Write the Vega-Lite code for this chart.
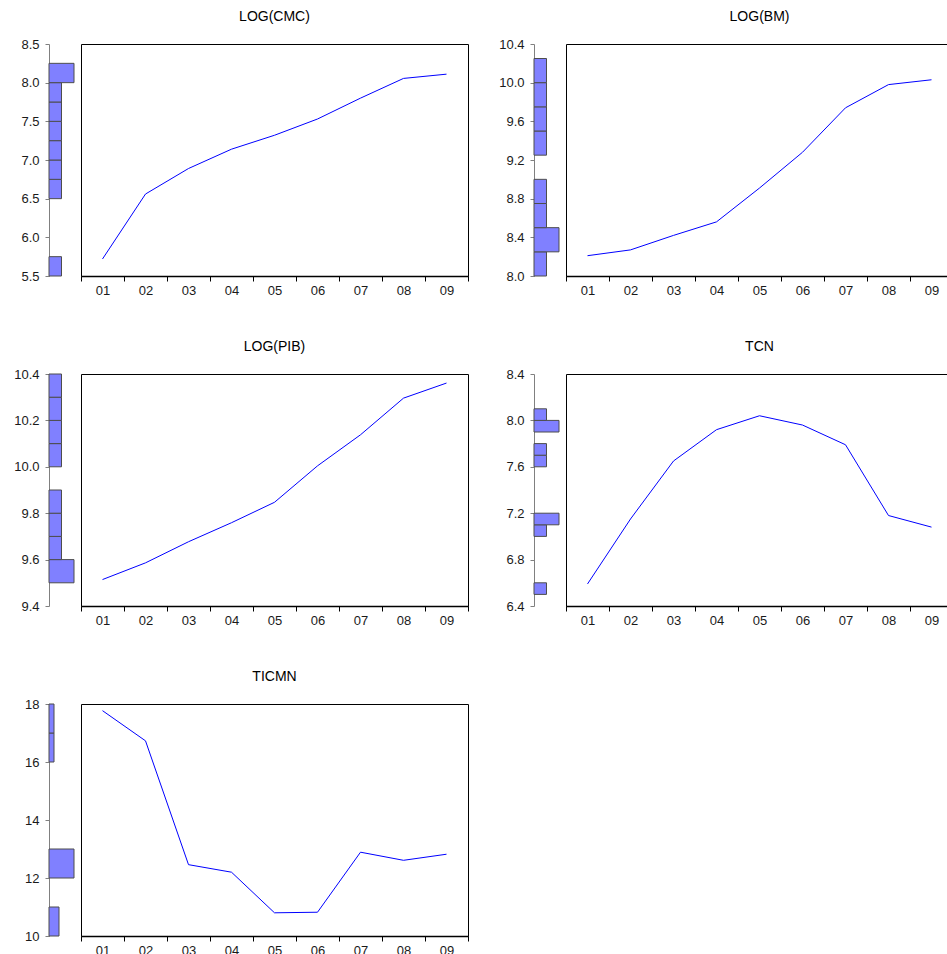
{
  "$schema": "https://vega.github.io/schema/vega-lite/v6.json",
  "autosize": {"type": "pad"},
  "padding": {"left": 13, "top": 9, "right": 0, "bottom": 0},
  "background": "white",
  "columns": 4,
  "spacing": {"row": 98, "column": 0},
  "bounds": "flush",
  "datasets": {
    "cmc": [
      {"obs": "01", "value": 5.72}, {"obs": "02", "value": 6.56}, {"obs": "03", "value": 6.89},
      {"obs": "04", "value": 7.14}, {"obs": "05", "value": 7.32}, {"obs": "06", "value": 7.53},
      {"obs": "07", "value": 7.80}, {"obs": "08", "value": 8.055}, {"obs": "09", "value": 8.11}
    ],
    "bm": [
      {"obs": "01", "value": 8.21}, {"obs": "02", "value": 8.27}, {"obs": "03", "value": 8.42},
      {"obs": "04", "value": 8.56}, {"obs": "05", "value": 8.91}, {"obs": "06", "value": 9.28},
      {"obs": "07", "value": 9.74}, {"obs": "08", "value": 9.98}, {"obs": "09", "value": 10.03}
    ],
    "pib": [
      {"obs": "01", "value": 9.514}, {"obs": "02", "value": 9.586}, {"obs": "03", "value": 9.677},
      {"obs": "04", "value": 9.759}, {"obs": "05", "value": 9.847}, {"obs": "06", "value": 10.004},
      {"obs": "07", "value": 10.138}, {"obs": "08", "value": 10.296}, {"obs": "09", "value": 10.361}
    ],
    "tcn": [
      {"obs": "01", "value": 6.59}, {"obs": "02", "value": 7.15}, {"obs": "03", "value": 7.65},
      {"obs": "04", "value": 7.92}, {"obs": "05", "value": 8.04}, {"obs": "06", "value": 7.96},
      {"obs": "07", "value": 7.79}, {"obs": "08", "value": 7.18}, {"obs": "09", "value": 7.08}
    ],
    "ticmn": [
      {"obs": "01", "value": 17.77}, {"obs": "02", "value": 16.73}, {"obs": "03", "value": 12.46},
      {"obs": "04", "value": 12.2}, {"obs": "05", "value": 10.8}, {"obs": "06", "value": 10.82},
      {"obs": "07", "value": 12.89}, {"obs": "08", "value": 12.61}, {"obs": "09", "value": 12.82}
    ],
    "cmc_hist": [
      {"lo": 5.5, "hi": 5.75, "n": 1}, {"lo": 6.5, "hi": 6.75, "n": 1}, {"lo": 6.75, "hi": 7.0, "n": 1},
      {"lo": 7.0, "hi": 7.25, "n": 1}, {"lo": 7.25, "hi": 7.5, "n": 1}, {"lo": 7.5, "hi": 7.75, "n": 1},
      {"lo": 7.75, "hi": 8.0, "n": 1}, {"lo": 8.0, "hi": 8.25, "n": 2}
    ],
    "bm_hist": [
      {"lo": 8.0, "hi": 8.25, "n": 1}, {"lo": 8.25, "hi": 8.5, "n": 2}, {"lo": 8.5, "hi": 8.75, "n": 1},
      {"lo": 8.75, "hi": 9.0, "n": 1}, {"lo": 9.25, "hi": 9.5, "n": 1}, {"lo": 9.5, "hi": 9.75, "n": 1},
      {"lo": 9.75, "hi": 10.0, "n": 1}, {"lo": 10.0, "hi": 10.25, "n": 1}
    ],
    "pib_hist": [
      {"lo": 9.5, "hi": 9.6, "n": 2}, {"lo": 9.6, "hi": 9.7, "n": 1}, {"lo": 9.7, "hi": 9.8, "n": 1},
      {"lo": 9.8, "hi": 9.9, "n": 1}, {"lo": 10.0, "hi": 10.1, "n": 1}, {"lo": 10.1, "hi": 10.2, "n": 1},
      {"lo": 10.2, "hi": 10.3, "n": 1}, {"lo": 10.3, "hi": 10.4, "n": 1}
    ],
    "tcn_hist": [
      {"lo": 6.5, "hi": 6.6, "n": 1}, {"lo": 7.0, "hi": 7.1, "n": 1}, {"lo": 7.1, "hi": 7.2, "n": 2},
      {"lo": 7.6, "hi": 7.7, "n": 1}, {"lo": 7.7, "hi": 7.8, "n": 1}, {"lo": 7.9, "hi": 8.0, "n": 2},
      {"lo": 8.0, "hi": 8.1, "n": 1}
    ],
    "ticmn_hist": [
      {"lo": 10, "hi": 11, "n": 2}, {"lo": 12, "hi": 13, "n": 5}, {"lo": 16, "hi": 17, "n": 1},
      {"lo": 17, "hi": 18, "n": 1}
    ]
  },
  "config": {
    "font": "Liberation Sans",
    "view": {"stroke": null},
    "axis": {"grid": false, "title": null, "labelFont": "Liberation Sans", "labelFontSize": 13, "labelColor": "#1a1a1a"},
    "title": {"font": "Liberation Sans", "fontSize": 14, "fontWeight": "normal", "color": "#000000", "anchor": "middle", "frame": "group", "offset": 20}
  },
  "concat": [
    {
      "width": 32, "height": 232,
      "data": {"name": "cmc_hist"},
      "mark": {"type": "rect", "fill": "#8080FF", "stroke": "#4d4d4d", "strokeWidth": 1},
      "encoding": {
        "y": {"field": "lo", "type": "quantitative", "scale": {"domain": [5.5, 8.5], "nice": false, "zero": false},
              "axis": {"values": [5.5, 6.0, 6.5, 7.0, 7.5, 8.0, 8.5], "format": ".1f", "domainColor": "#808080", "tickColor": "#808080", "tickSize": 4, "labelPadding": 6, "labelFlush": false, "labelOverlap": false}},
        "y2": {"field": "hi"},
        "x": {"field": "n", "type": "quantitative", "scale": {"domain": [0, 2], "range": [0, 25]}, "axis": null},
        "x2": {"datum": 0}
      }
    },
    {
      "width": 387, "height": 232,
      "title": {"text": "LOG(CMC)", "fontWeight": "normal"},
      "view": {"stroke": "#000000", "strokeWidth": 1},
      "data": {"name": "cmc"},
      "mark": {"type": "line", "color": "#0000FF", "strokeWidth": 1},
      "encoding": {
        "x": {"field": "obs", "type": "ordinal", "scale": {"type": "band", "paddingInner": 0, "paddingOuter": 0},
              "axis": {"tickBand": "extent", "labelAngle": 0, "domainColor": "#000000", "domainWidth": 1.5, "tickColor": "#000000", "tickSize": 5, "labelPadding": 3, "labelColor": "#1a1a1a"}},
        "y": {"field": "value", "type": "quantitative", "scale": {"domain": [5.5, 8.5], "nice": false, "zero": false}, "axis": null}
      }
    },
    {
      "width": 98, "height": 232,
      "data": {"name": "bm_hist"},
      "mark": {"type": "rect", "fill": "#8080FF", "stroke": "#4d4d4d", "strokeWidth": 1},
      "encoding": {
        "y": {"field": "lo", "type": "quantitative", "scale": {"domain": [8.0, 10.4], "nice": false, "zero": false},
              "axis": {"values": [8.0, 8.4, 8.8, 9.2, 9.6, 10.0, 10.4], "format": ".1f", "offset": -66, "domainColor": "#808080", "tickColor": "#808080", "tickSize": 4, "labelPadding": 6, "labelFlush": false, "labelOverlap": false}},
        "y2": {"field": "hi"},
        "x": {"field": "n", "type": "quantitative", "scale": {"domain": [0, 2], "range": [66, 91]}, "axis": null},
        "x2": {"datum": 0}
      }
    },
    {
      "width": 387, "height": 232,
      "title": {"text": "LOG(BM)", "fontWeight": "normal"},
      "view": {"stroke": "#000000", "strokeWidth": 1},
      "data": {"name": "bm"},
      "mark": {"type": "line", "color": "#0000FF", "strokeWidth": 1},
      "encoding": {
        "x": {"field": "obs", "type": "ordinal", "scale": {"type": "band", "paddingInner": 0, "paddingOuter": 0},
              "axis": {"tickBand": "extent", "labelAngle": 0, "domainColor": "#000000", "domainWidth": 1.5, "tickColor": "#000000", "tickSize": 5, "labelPadding": 3, "labelColor": "#1a1a1a"}},
        "y": {"field": "value", "type": "quantitative", "scale": {"domain": [8.0, 10.4], "nice": false, "zero": false}, "axis": null}
      }
    },
    {
      "width": 32, "height": 232,
      "data": {"name": "pib_hist"},
      "mark": {"type": "rect", "fill": "#8080FF", "stroke": "#4d4d4d", "strokeWidth": 1},
      "encoding": {
        "y": {"field": "lo", "type": "quantitative", "scale": {"domain": [9.4, 10.4], "nice": false, "zero": false},
              "axis": {"values": [9.4, 9.6, 9.8, 10.0, 10.2, 10.4], "format": ".1f", "domainColor": "#808080", "tickColor": "#808080", "tickSize": 4, "labelPadding": 6, "labelFlush": false, "labelOverlap": false}},
        "y2": {"field": "hi"},
        "x": {"field": "n", "type": "quantitative", "scale": {"domain": [0, 2], "range": [0, 25]}, "axis": null},
        "x2": {"datum": 0}
      }
    },
    {
      "width": 387, "height": 232,
      "title": {"text": "LOG(PIB)", "fontWeight": "normal"},
      "view": {"stroke": "#000000", "strokeWidth": 1},
      "data": {"name": "pib"},
      "mark": {"type": "line", "color": "#0000FF", "strokeWidth": 1},
      "encoding": {
        "x": {"field": "obs", "type": "ordinal", "scale": {"type": "band", "paddingInner": 0, "paddingOuter": 0},
              "axis": {"tickBand": "extent", "labelAngle": 0, "domainColor": "#000000", "domainWidth": 1.5, "tickColor": "#000000", "tickSize": 5, "labelPadding": 3, "labelColor": "#1a1a1a"}},
        "y": {"field": "value", "type": "quantitative", "scale": {"domain": [9.4, 10.4], "nice": false, "zero": false}, "axis": null}
      }
    },
    {
      "width": 98, "height": 232,
      "data": {"name": "tcn_hist"},
      "mark": {"type": "rect", "fill": "#8080FF", "stroke": "#4d4d4d", "strokeWidth": 1},
      "encoding": {
        "y": {"field": "lo", "type": "quantitative", "scale": {"domain": [6.4, 8.4], "nice": false, "zero": false},
              "axis": {"values": [6.4, 6.8, 7.2, 7.6, 8.0, 8.4], "format": ".1f", "offset": -66, "domainColor": "#808080", "tickColor": "#808080", "tickSize": 4, "labelPadding": 6, "labelFlush": false, "labelOverlap": false}},
        "y2": {"field": "hi"},
        "x": {"field": "n", "type": "quantitative", "scale": {"domain": [0, 2], "range": [66, 91]}, "axis": null},
        "x2": {"datum": 0}
      }
    },
    {
      "width": 387, "height": 232,
      "title": {"text": "TCN", "fontWeight": "normal"},
      "view": {"stroke": "#000000", "strokeWidth": 1},
      "data": {"name": "tcn"},
      "mark": {"type": "line", "color": "#0000FF", "strokeWidth": 1},
      "encoding": {
        "x": {"field": "obs", "type": "ordinal", "scale": {"type": "band", "paddingInner": 0, "paddingOuter": 0},
              "axis": {"tickBand": "extent", "labelAngle": 0, "domainColor": "#000000", "domainWidth": 1.5, "tickColor": "#000000", "tickSize": 5, "labelPadding": 3, "labelColor": "#1a1a1a"}},
        "y": {"field": "value", "type": "quantitative", "scale": {"domain": [6.4, 8.4], "nice": false, "zero": false}, "axis": null}
      }
    },
    {
      "width": 32, "height": 232,
      "data": {"name": "ticmn_hist"},
      "mark": {"type": "rect", "fill": "#8080FF", "stroke": "#4d4d4d", "strokeWidth": 1},
      "encoding": {
        "y": {"field": "lo", "type": "quantitative", "scale": {"domain": [10, 18], "nice": false, "zero": false},
              "axis": {"values": [10, 12, 14, 16, 18], "format": "d", "domainColor": "#808080", "tickColor": "#808080", "tickSize": 4, "labelPadding": 6, "labelFlush": false, "labelOverlap": false}},
        "y2": {"field": "hi"},
        "x": {"field": "n", "type": "quantitative", "scale": {"domain": [0, 5], "range": [0, 25]}, "axis": null},
        "x2": {"datum": 0}
      }
    },
    {
      "width": 387, "height": 232,
      "title": {"text": "TICMN", "fontWeight": "normal"},
      "view": {"stroke": "#000000", "strokeWidth": 1},
      "data": {"name": "ticmn"},
      "mark": {"type": "line", "color": "#0000FF", "strokeWidth": 1},
      "encoding": {
        "x": {"field": "obs", "type": "ordinal", "scale": {"type": "band", "paddingInner": 0, "paddingOuter": 0},
              "axis": {"tickBand": "extent", "labelAngle": 0, "domainColor": "#000000", "domainWidth": 1.5, "tickColor": "#000000", "tickSize": 5, "labelPadding": 3, "labelColor": "#1a1a1a"}},
        "y": {"field": "value", "type": "quantitative", "scale": {"domain": [10, 18], "nice": false, "zero": false}, "axis": null}
      }
    }
  ]
}
